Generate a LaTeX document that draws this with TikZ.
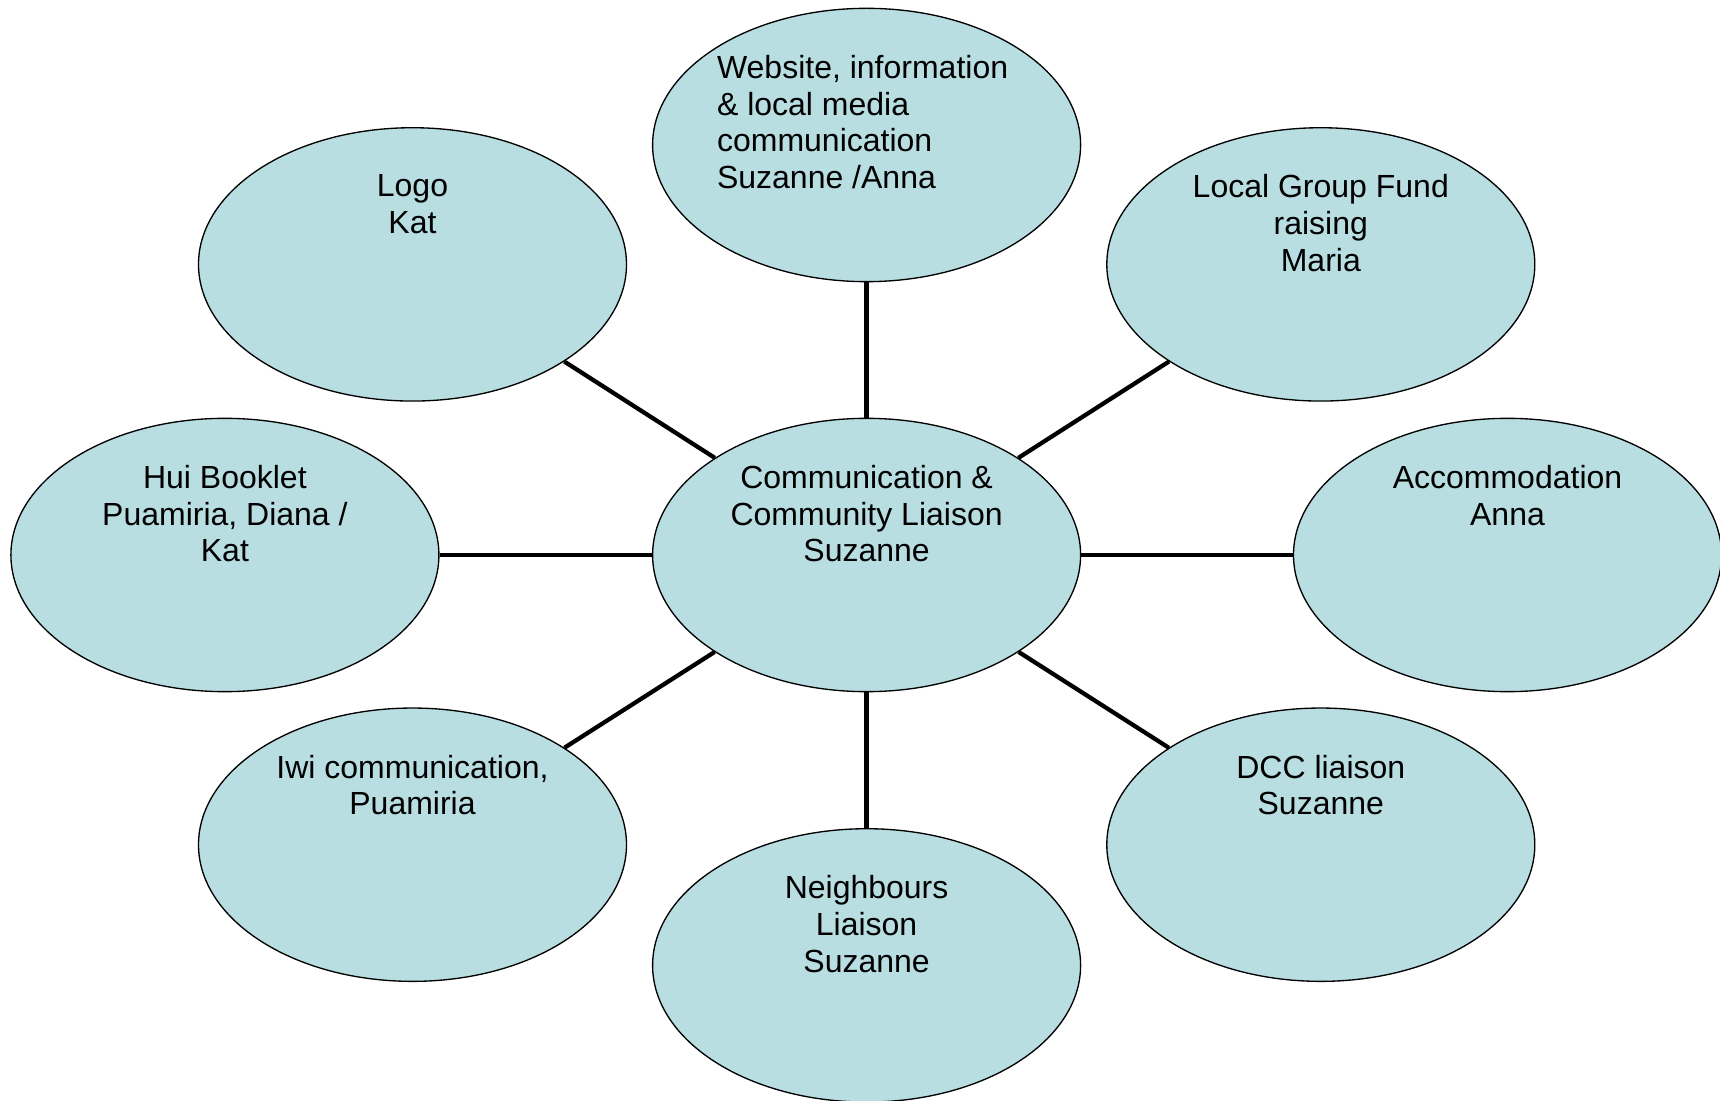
\documentclass[tikz,border=0pt]{standalone}
\usepackage{fontspec}
\setmainfont{Liberation Sans}
\definecolor{bubblefill}{RGB}{184,222,226}
\tikzset{
  bubble/.style={ellipse, draw=black, line width=0.5pt, fill=bubblefill,
    minimum width=160.5pt, minimum height=102.5pt, inner sep=0pt},
  bubbletext/.style={anchor=north, inner sep=0pt, align=center,
    font=\fontsize{12pt}{13.8pt}\selectfont},
  link/.style={line width=1.6pt}
}
\usetikzlibrary{shapes.geometric}

\begin{document}
\begin{tikzpicture}[x=0.375pt, y=-0.375pt]
\useasboundingbox (0,0) rectangle (1720,1101);
% the bubbles
\node[bubble] (hub) at (866.6,555) {};
\node[bubble] (web) at (866.6,145) {};
\node[bubble] (logo) at (412.5,264.4) {};
\node[bubble] (fund) at (1320.8,264.4) {};
\node[bubble] (hui) at (224.9,555) {};
\node[bubble] (accom) at (1507.5,555) {};
\node[bubble] (iwi) at (412.5,844.7) {};
\node[bubble] (dcc) at (1320.8,844.7) {};
\node[bubble] (neigh) at (866.6,965.4) {};
% spokes
\foreach \n in {web,logo,fund,hui,accom,iwi,dcc,neigh}
\draw[link] (hub) -- (\n);
% texts
\node[bubbletext] (hubtxt) at ([yshift=-17.6pt]hub.north) {Communication \&\\Community Liaison\\Suzanne};
\node[bubbletext, align=left] (webtxt) at ([xshift=-1.5pt, yshift=-17.6pt]web.north) {Website, information\\\& local media\\communication\\Suzanne /Anna};
\node[bubbletext] (logotxt) at ([yshift=-17.6pt]logo.north) {Logo\\Kat};
\node[bubbletext] (fundtxt) at ([yshift=-17.6pt]fund.north) {Local Group Fund\\raising\\Maria};
\node[bubbletext] (huitxt) at ([yshift=-17.6pt]hui.north) {Hui Booklet\\Puamiria, Diana /\\Kat};
\node[bubbletext] (accomtxt) at ([yshift=-17.6pt]accom.north) {Accommodation\\Anna};
\node[bubbletext] (iwitxt) at ([yshift=-17.6pt]iwi.north) {Iwi communication,\\Puamiria};
\node[bubbletext] (dcctxt) at ([yshift=-17.6pt]dcc.north) {DCC liaison\\Suzanne};
\node[bubbletext] (neightxt) at ([yshift=-17.6pt]neigh.north) {Neighbours\\Liaison\\Suzanne};
\end{tikzpicture}
\end{document}
